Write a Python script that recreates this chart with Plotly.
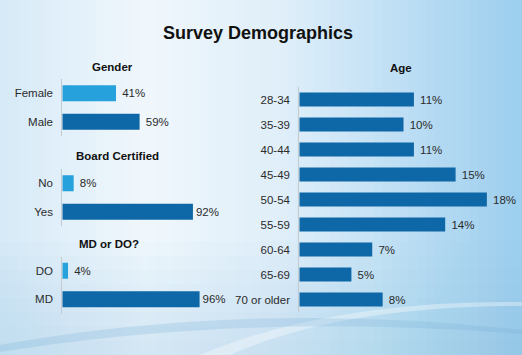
import plotly.graph_objects as go

# ---- data ----
gender_cats = ["Female", "Male"]
gender_vals = [41, 59]
board_cats = ["No", "Yes"]
board_vals = [8, 92]
degree_cats = ["DO", "MD"]
degree_vals = [4, 96]
age_cats = ["28-34", "35-39", "40-44", "45-49", "50-54", "55-59", "60-64", "65-69", "70 or older"]
age_vals = [11, 10, 11, 15, 18, 14, 7, 5, 8]

title_text = "Survey Demographics"
panel_titles = ["Gender", "Board Certified", "MD or DO?", "Age"]

W, H = 522, 355
LIGHT = "#27a1dc"
DARK = "#0e67a6"
FONT = "Liberation Sans Narrow, Arial Narrow, Liberation Sans, Arial, sans-serif"
TXT = "#2b2b2b"
NB = "\u00a0"

def yd(top, bottom):
    return [1 - bottom / H, 1 - top / H]

fig = go.Figure()

def add_panel(cats, vals, colors, xa, ya, pads):
    fig.add_trace(go.Bar(
        y=cats, x=vals, orientation="h",
        marker=dict(color=colors, line=dict(width=0)),
        text=[f"{p}{v}%" for v, p in zip(vals, pads)], textposition="outside",
        textfont=dict(family=FONT, size=11.5, color=TXT),
        cliponaxis=False, width=0.56,
        xaxis=xa, yaxis=ya, showlegend=False, hoverinfo="skip"))

add_panel(gender_cats, gender_vals, [LIGHT, DARK], "x", "y", [NB, NB])
add_panel(board_cats, board_vals, [LIGHT, DARK], "x2", "y2", [NB, ""])
add_panel(degree_cats, degree_vals, [LIGHT, DARK], "x3", "y3", [NB, ""])
add_panel(age_cats, age_vals, [DARK] * len(age_vals), "x4", "y4", [NB] * len(age_vals))

left_dom = [62.3 / W, 0.40]
age_dom = [299.3 / W, 0.98]
left_w = (left_dom[1] - left_dom[0]) * W
age_w = (age_dom[1] - age_dom[0]) * W

def xax(dom, rng, anchor):
    return dict(domain=dom, range=rng, visible=False, anchor=anchor, fixedrange=True)

def yax(dom, cats, anchor):
    return dict(domain=dom, type="category", categoryorder="array",
                categoryarray=cats[::-1], anchor=anchor,
                showline=True, linecolor="#c3cbd1", linewidth=1,
                showgrid=False, zeroline=False, ticks="", ticklabelstandoff=6,
                tickfont=dict(family=FONT, size=11.5, color=TXT), fixedrange=True)

layout = dict(
    width=W, height=H,
    margin=dict(l=0, r=0, t=0, b=0),
    paper_bgcolor="#eef6fb", plot_bgcolor="rgba(0,0,0,0)",
    bargap=0.44,
    xaxis=xax(left_dom, [0, left_w / 1.31], "y"),
    xaxis2=xax(left_dom, [0, left_w / 1.42], "y2"),
    xaxis3=xax(left_dom, [0, left_w / 1.43], "y3"),
    xaxis4=xax(age_dom, [0, age_w / 10.42], "y4"),
    yaxis=yax(yd(79, 136), gender_cats, "x"),
    yaxis2=yax(yd(169, 226), board_cats, "x2"),
    yaxis3=yax(yd(256.5, 313.5), degree_cats, "x3"),
    yaxis4=yax(yd(87, 312), age_cats, "x4"),
    title=dict(text=f"<b>{title_text}</b>", x=258 / W, xanchor="center",
               y=1 - 33 / H, yanchor="middle",
               font=dict(family=FONT, size=18, color="#111111")),
)

# background gradient (horizontal strips)
def lerp(c1, c2, t):
    return tuple(round(a + (b - a) * t) for a, b in zip(c1, c2))

stops = [(0.0, (214, 234, 247)), (0.28, (240, 247, 252)), (0.55, (222, 238, 249)),
         (1.0, (156, 206, 238))]
shapes = []
N = 60
for i in range(N):
    x0, x1 = i / N, (i + 1) / N
    xm = (x0 + x1) / 2
    for j in range(len(stops) - 1):
        if stops[j][0] <= xm <= stops[j + 1][0]:
            t = (xm - stops[j][0]) / (stops[j + 1][0] - stops[j][0])
            c = lerp(stops[j][1], stops[j + 1][1], t)
            break
    shapes.append(dict(type="rect", xref="paper", yref="paper", x0=x0, x1=x1 + 0.002,
                       y0=0, y1=1, fillcolor="rgb(%d,%d,%d)" % c, line=dict(width=0),
                       layer="below"))
# bottom bluish fade
for k in range(8):
    shapes.append(dict(type="rect", xref="paper", yref="paper", x0=0, x1=1,
                       y0=0, y1=0.04 * (k + 1), fillcolor="rgba(150,200,235,0.035)",
                       line=dict(width=0), layer="below"))

def px(x, y):
    return f"{x / W:.4f},{1 - y / H:.4f}"

# swooshes
shapes.append(dict(type="path", xref="paper", yref="paper", layer="below",
                   path=f"M {px(200,355)} Q {px(330,300)} {px(522,302)} L {px(522,306)} Q {px(340,306)} {px(230,355)} Z",
                   fillcolor="rgba(255,255,255,0.35)", line=dict(width=0)))
shapes.append(dict(type="path", xref="paper", yref="paper", layer="below",
                   path=f"M {px(0,345)} Q {px(250,300)} {px(522,330)} L {px(522,334)} Q {px(250,312)} {px(0,352)} Z",
                   fillcolor="rgba(120,175,215,0.25)", line=dict(width=0)))
layout["shapes"] = shapes

anns = []
for txt, x, y in [(panel_titles[0], 112, 67), (panel_titles[1], 117, 156),
                  (panel_titles[2], 109, 244), (panel_titles[3], 401, 68)]:
    anns.append(dict(text=f"<b>{txt}</b>", x=x / W, y=1 - y / H, xref="paper", yref="paper",
                     xanchor="center", yanchor="middle", showarrow=False,
                     font=dict(family=FONT, size=11.5, color="#111111")))
layout["annotations"] = anns

fig.update_layout(**layout)
fig.write_html("out.html", config={"displayModeBar": False},
               post_script="document.body.style.margin='0';document.body.style.overflow='hidden';")
